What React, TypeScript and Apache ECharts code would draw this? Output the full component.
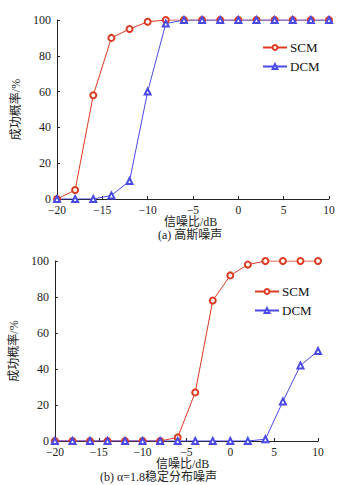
import React, { useEffect, useRef } from "react";
import * as echarts from "echarts";

const snr = [-20, -18, -16, -14, -12, -10, -8, -6, -4, -2, 0, 2, 4, 6, 8, 10];
const scmA = [0, 5, 58, 90, 95, 99, 100, 100, 100, 100, 100, 100, 100, 100, 100, 100];
const dcmA = [0, 0, 0, 2, 10, 60, 98, 100, 100, 100, 100, 100, 100, 100, 100, 100];
const scmB = [0, 0, 0, 0, 0, 0, 0, 2, 27, 78, 92, 98, 100, 100, 100, 100];
const dcmB = [0, 0, 0, 0, 0, 0, 0, 0, 0, 0, 0, 0, 1, 22, 42, 50];
const seriesNames = ["SCM", "DCM"];
const xName = "信噪比/dB";
const yName = "成功概率/%";
const captionA = "(a) 高斯噪声";
const captionB = "(b) α=1.8稳定分布噪声";

const RED = "#dc3a22";
const BLUE = "#4a4ae8";
const serif = "'Liberation Serif', 'Times New Roman', serif";
const cjk = "'Liberation Serif', 'Noto Sans CJK SC', serif";

export default function App() {
  const ref = useRef<HTMLDivElement>(null);
  useEffect(() => {
    if (!ref.current) return;
    const chart = echarts.init(ref.current, null, { renderer: "svg" });
    const pair = (arr: number[]) => snr.map((x, i) => [x, arr[i]]);
    const xAxisBase = (gridIndex: number) => ({
      type: "value" as const,
      gridIndex,
      min: -20,
      max: 10,
      interval: 5,
      axisLine: { show: true, onZero: false, lineStyle: { color: "#222", width: 1 } },
      axisTick: { show: true, inside: true, length: 3, lineStyle: { color: "#222" } },
      splitLine: { show: false },
      axisLabel: {
        color: "#222",
        fontFamily: serif,
        fontSize: 11.5,
        margin: 6,
        lineHeight: 10,
        formatter: (v: number) => String(v).replace("-", "\u2212"),
      },
    });
    const yAxisBase = (gridIndex: number) => ({
      type: "value" as const,
      gridIndex,
      min: 0,
      max: 100,
      interval: 20,
      name: yName,
      nameLocation: "middle" as const,
      nameGap: 26,
      nameTextStyle: { color: "#222", fontFamily: cjk, fontSize: 12 },
      axisLine: { show: true, onZero: false, lineStyle: { color: "#222", width: 1 } },
      axisTick: { show: true, inside: true, length: 3, lineStyle: { color: "#222" } },
      splitLine: { show: false },
      axisLabel: { color: "#222", fontFamily: serif, fontSize: 12, margin: 6, lineHeight: 10 },
    });
    const mk = (name: string, data: number[], idx: number, color: string, symbol: string) => ({
      name,
      type: "line" as const,
      xAxisIndex: idx,
      yAxisIndex: idx,
      data: pair(data),
      symbol,
      symbolSize: 6,
      lineStyle: { color, width: 1 },
      itemStyle: { color, borderColor: color, borderWidth: 1 },
    });
    const legendBase = (left: number, top: number) => ({
      data: seriesNames,
      left,
      top,
      orient: "vertical" as const,
      itemWidth: 24,
      itemHeight: 6,
      itemGap: 6,
      textStyle: { fontFamily: serif, fontSize: 13, color: "#111", padding: [0, 0, 0, -2] },
      selectedMode: false,
    });
    chart.setOption({
      animation: false,
      backgroundColor: "#fff",
      grid: [
        { left: 57, top: 20, width: 272, height: 179 },
        { left: 48, top: 261, width: 270, height: 180 },
      ],
      xAxis: [xAxisBase(0), xAxisBase(1)],
      yAxis: [yAxisBase(0), yAxisBase(1)],
      legend: [legendBase(257, 36), legendBase(249, 280)],
      graphic: [
        { type: "text", left: 164, top: 216, style: { text: xName, font: `12px ${cjk}`, fill: "#222" } },
        { type: "text", left: 158, top: 229, style: { text: captionA, font: `12px ${cjk}`, fill: "#222" } },
        { type: "text", left: 156, top: 458, style: { text: xName, font: `12px ${cjk}`, fill: "#222" } },
        { type: "text", left: 100, top: 471, style: { text: captionB, font: `12px ${cjk}`, fill: "#222" } },
      ],
      series: [
        mk(seriesNames[0], scmA, 0, RED, "emptyCircle"),
        mk(seriesNames[1], dcmA, 0, BLUE, "emptyTriangle"),
        mk(seriesNames[0], scmB, 1, RED, "emptyCircle"),
        mk(seriesNames[1], dcmB, 1, BLUE, "emptyTriangle"),
      ],
    });
    return () => chart.dispose();
  }, []);
  return <div ref={ref} style={{ width: 348, height: 485, position: "absolute", left: 0, top: 0 }} />;
}
